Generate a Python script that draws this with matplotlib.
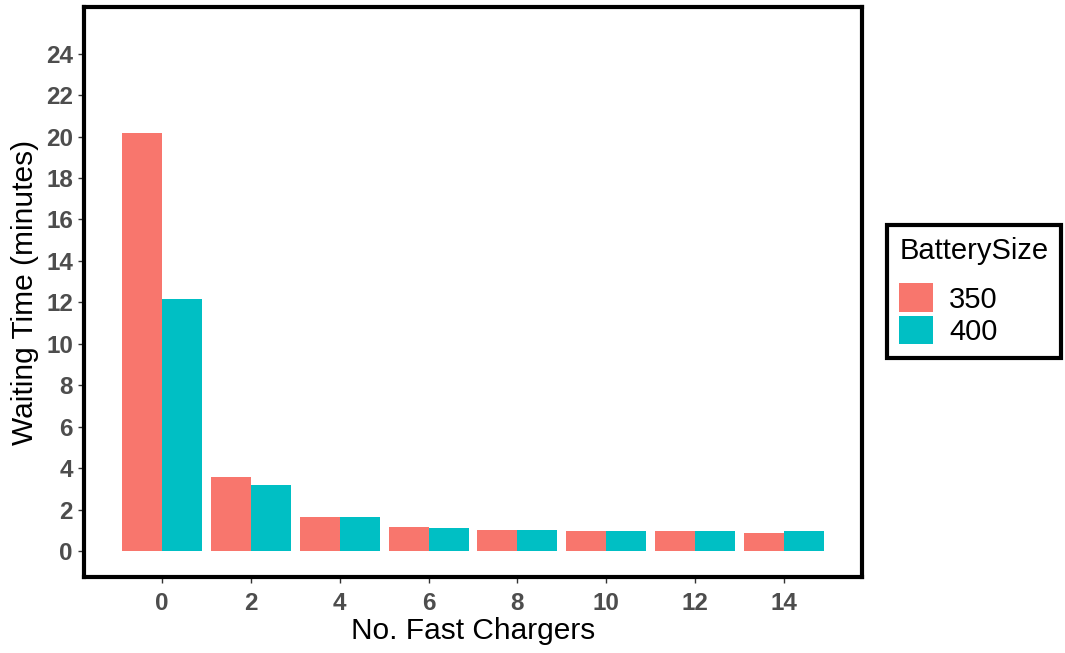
import numpy as np
import matplotlib
matplotlib.use('Agg')
import matplotlib.pyplot as plt
from matplotlib.patches import Patch

# data
chargers = [0, 2, 4, 6, 8, 10, 12, 14]
wait_350 = [20.17, 3.59, 1.64, 1.16, 1.03, 0.97, 0.97, 0.89]
wait_400 = [12.17, 3.18, 1.64, 1.09, 1.03, 0.97, 0.97, 0.97]
series_labels = ['350', '400']
colors = ['#F8766D', '#00BFC4']

plt.rcParams.update({
    'font.family': ['Liberation Sans', 'DejaVu Sans'],
})

fig = plt.figure(figsize=(10.65, 6.53), dpi=100)
ax = fig.add_axes([0.0789, 0.1164, 0.7305, 0.8729])

x = np.array(chargers, dtype=float)
bw = 0.9
ax.bar(x - bw / 2, wait_350, width=bw, color=colors[0], linewidth=0)
ax.bar(x + bw / 2, wait_400, width=bw, color=colors[1], linewidth=0)

ax.set_xlim(-1.75, 15.75)
ax.set_ylim(-1.25, 26.25)
ax.set_xticks(chargers)
ax.set_yticks(np.arange(0, 25, 2))

for s in ax.spines.values():
    s.set_linewidth(3)
    s.set_color('black')

ax.tick_params(axis='both', length=4, width=1, color='#333333',
               labelsize=17.5, labelcolor='#4d4d4d')
ax.tick_params(axis='x', pad=7)
ax.tick_params(axis='y', pad=4)
for lbl in ax.get_xticklabels() + ax.get_yticklabels():
    lbl.set_fontweight('bold')

ax.set_xlabel('No. Fast Chargers', fontsize=21.5, labelpad=1)
ax.set_ylabel('Waiting Time (minutes)', fontsize=21.5, labelpad=5)

handles = [Patch(facecolor=c, edgecolor='none') for c in colors]
leg = fig.legend(handles, series_labels, title='BatterySize',
                 loc='center left', bbox_to_anchor=(0.833, 0.5536),
                 fontsize=21, title_fontsize=21, frameon=True,
                 fancybox=False, framealpha=1,
                 handlelength=1.15, handleheight=1.15, handletextpad=0.55,
                 labelspacing=0.07, borderpad=0.42, borderaxespad=0,
                 alignment='left')
leg.get_frame().set_edgecolor('black')
leg.get_frame().set_linewidth(3)
# gap between the legend title and the keys
leg._legend_box.sep = 13

fig.savefig('out.png', dpi=100)
